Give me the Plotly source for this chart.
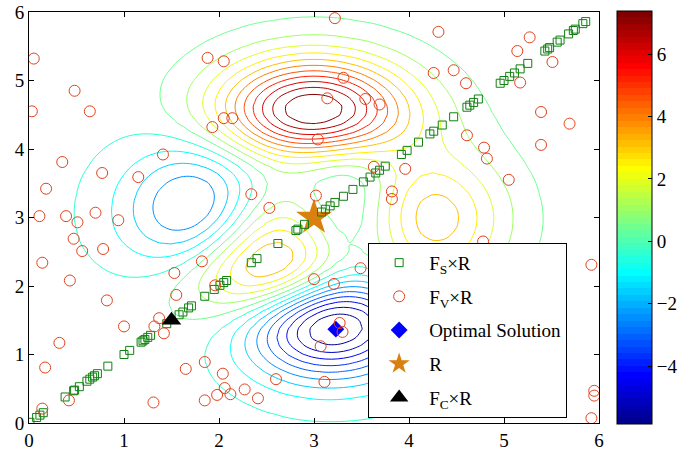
import numpy as np
import plotly.graph_objects as go

# ---- test surface: MATLAB "peaks", shifted onto the [0, 6] x [0, 6] domain ----
grid_n = 49
gx = np.linspace(0, 6, grid_n)
gy = np.linspace(0, 6, grid_n)


def peaks(x, y):
    u, v = x - 3.0, y - 3.0
    return (3 * (1 - u) ** 2 * np.exp(-u ** 2 - (v + 1) ** 2)
            - 10 * (u / 5 - u ** 3 - v ** 5) * np.exp(-u ** 2 - v ** 2)
            - 1.0 / 3 * np.exp(-(u + 1) ** 2 - v ** 2))


GX, GY = np.meshgrid(gx, gy)
Z = peaks(GX, GY)

n_levels = 20
z_lo, z_hi = float(Z.min()), float(Z.max())
level_step = (z_hi - z_lo) / (n_levels + 1)
c_lo = z_lo + level_step
c_hi = z_hi - level_step

# ---- sample sets ----
fs_t = [0.01, 0.08, 0.115, 0.15, 0.38, 0.47, 0.48, 0.53, 0.61, 0.64, 0.67, 0.69,
        0.72, 0.83, 1.00, 1.06, 1.18, 1.20, 1.22, 1.25, 1.28, 1.45, 1.58, 1.62,
        1.68, 1.71, 1.85, 1.95, 2.01, 2.05, 2.08, 2.34, 2.40, 2.62, 2.81, 2.83,
        2.90, 3.08, 3.12, 3.17, 3.22, 3.31, 3.41, 3.52, 3.59, 3.65, 3.69, 3.75,
        3.92, 3.98, 4.10, 4.22, 4.26, 4.35, 4.47, 4.61, 4.64, 4.68, 4.73, 4.96,
        5.00, 5.06, 5.11, 5.17, 5.25, 5.43, 5.46, 5.48, 5.56, 5.59, 5.68, 5.73,
        5.75, 5.83, 5.86]
fs_x = fs_t
fs_y = fs_t

fv_x = [0.05, 0.48, 0.03, 0.64, 0.35, 0.77, 0.18, 1.15, 1.41, 1.93, 1.88, 2.05,
        0.11, 0.39, 0.51, 0.70, 0.94, 0.47, 0.56, 0.78, 0.14, 0.43, 0.82, 1.53,
        1.82, 1.55, 1.96, 1.00, 1.37, 1.32, 1.42, 0.32, 0.17, 1.85, 1.65, 0.42,
        1.31, 1.85, 1.98, 0.14, 3.00, 3.21, 3.49, 3.27, 3.30, 3.07, 2.04, 2.06,
        2.12, 2.27, 2.41, 2.60, 3.11, 3.22, 3.31, 3.14, 3.54, 3.69, 2.05, 2.14,
        3.04, 3.63, 3.96, 3.82, 3.82, 2.34, 2.53, 3.02, 4.31, 5.27, 5.14, 5.51,
        4.26, 4.47, 4.60, 5.17, 5.39, 5.69, 5.39, 4.61, 4.79, 4.82, 5.05, 4.78,
        5.92, 5.95, 5.95, 5.92]
fv_y = [5.32, 4.85, 4.55, 4.55, 3.81, 3.65, 3.42, 3.59, 3.92, 4.32, 5.33, 5.28,
        3.02, 3.02, 2.93, 3.07, 2.96, 2.69, 2.51, 2.54, 2.34, 2.08, 1.79, 2.19,
        2.36, 1.87, 2.01, 1.41, 1.53, 1.41, 1.31, 1.17, 0.81, 0.89, 0.79, 0.33,
        0.30, 0.33, 0.41, 0.21, 2.10, 2.03, 2.26, 1.46, 1.33, 1.12, 0.72, 0.51,
        0.42, 0.49, 0.36, 0.64, 0.60, 5.91, 5.04, 4.74, 4.73, 4.65, 4.45, 4.45,
        4.14, 3.74, 3.71, 3.38, 3.27, 3.34, 3.14, 3.32, 5.71, 5.63, 5.43, 5.27,
        5.11, 5.15, 4.96, 4.97, 4.54, 4.37, 4.06, 4.20, 4.02, 3.86, 3.55, 2.65,
        2.31, 0.47, 0.40, 0.07]

opt_x, opt_y = [3.23], [1.37]
r_x, r_y = [3.0], [3.0]
fc_x, fc_y = [1.5], [1.5]

colorbar_ticks = [-4, -2, 0, 2, 4, 6]


# ---- MATLAB-style jet(64) colormap as a stepped colorscale ----
def jet_colors(m=64):
    n = int(np.ceil(m / 4))
    u = np.concatenate([np.arange(1, n + 1) / n, np.ones(n - 1), np.arange(n, 0, -1) / n])
    g = int(np.ceil(n / 2)) - (1 if m % 4 == 1 else 0) + np.arange(1, len(u) + 1)
    r = g + n
    b = g - n
    J = np.zeros((m, 3))
    for ch, idx in ((0, r), (1, g), (2, b)):
        ok = (idx >= 1) & (idx <= m)
        J[idx[ok] - 1, ch] = u[ok]
    return ["rgb(%d,%d,%d)" % tuple(int(round(255 * c)) for c in row) for row in J]


jet = jet_colors(64)
jet_scale = []
for i, c in enumerate(jet):
    jet_scale.append([i / 64, c])
    jet_scale.append([(i + 1) / 64, c])

FONT = "Liberation Serif, Times New Roman, serif"

fig = go.Figure()

fig.add_trace(go.Contour(
    x=gx, y=gy, z=Z,
    contours=dict(coloring="lines", start=c_lo, end=c_hi, size=level_step),
    line=dict(width=1),
    colorscale=jet_scale, zmin=c_lo, zmax=c_hi,
    showscale=False, showlegend=False, hoverinfo="skip",
))

# colour bar for the contour levels
fig.add_trace(go.Scatter(
    x=[None, None], y=[None, None], mode="markers", showlegend=False,
    marker=dict(color=[c_lo, c_hi], cmin=c_lo, cmax=c_hi, colorscale=jet_scale,
                showscale=True,
                colorbar=dict(
                    x=1.0316, xanchor="left", xref="paper", y=0.5, yanchor="middle",
                    len=1.005, lenmode="fraction", thickness=35, thicknessmode="pixels",
                    ypad=0, xpad=0, outlinewidth=1, outlinecolor="black",
                    tickvals=colorbar_ticks, ticks="inside", ticklen=4,
                    tickcolor="black", tickfont=dict(family=FONT, size=19, color="black"),
                )),
))

fig.add_trace(go.Scatter(
    x=opt_x, y=opt_y, mode="markers", name="Optimal Solution",
    legendrank=3, legendgroup="opt",
    marker=dict(symbol="diamond", size=13, color="#0000ff", line=dict(width=0)),
))
fig.add_trace(go.Scatter(
    x=r_x, y=r_y, mode="markers", name="R", legendrank=4, legendgroup="r",
    marker=dict(symbol="star", size=27, color="#d9800f", line=dict(width=0)),
))
fig.add_trace(go.Scatter(
    x=fs_x, y=fs_y, mode="markers", name="F<sub>S</sub>×R",
    legendrank=1, legendgroup="fs",
    marker=dict(symbol="square-open", size=8, color="#108010", line=dict(width=1)),
))
fig.add_trace(go.Scatter(
    x=fv_x, y=fv_y, mode="markers", name="F<sub>V</sub>×R",
    legendrank=2, legendgroup="fv",
    marker=dict(symbol="circle-open", size=11, color="#e2431e", line=dict(width=1)),
))
fig.add_trace(go.Scatter(
    x=fc_x, y=fc_y, mode="markers", name="F<sub>C</sub>×R",
    legendrank=5, legendgroup="fc",
    marker=dict(symbol="triangle-up", size=17, color="black", line=dict(width=0)),
))

axis_common = dict(
    range=[0, 6], tickvals=[0, 1, 2, 3, 4, 5, 6], showgrid=False, zeroline=False,
    showline=True, linecolor="black", linewidth=1, mirror="ticks",
    ticks="inside", ticklen=5, tickcolor="black",
    tickfont=dict(family=FONT, size=19, color="black"),
)

fig.update_layout(
    width=678, height=452,
    margin=dict(l=29, r=79, t=12, b=29, autoexpand=False),
    paper_bgcolor="white", plot_bgcolor="white",
    xaxis=axis_common, yaxis=axis_common,
    font=dict(family=FONT, size=19, color="black"),
    legend=dict(
        x=0.595, y=0.4385, xanchor="left", yanchor="top",
        bgcolor="white", bordercolor="black", borderwidth=1,
        font=dict(family=FONT, size=19, color="black"),
        itemsizing="trace", itemwidth=50, tracegroupgap=6,
    ),
)

fig.write_html("out.html")
